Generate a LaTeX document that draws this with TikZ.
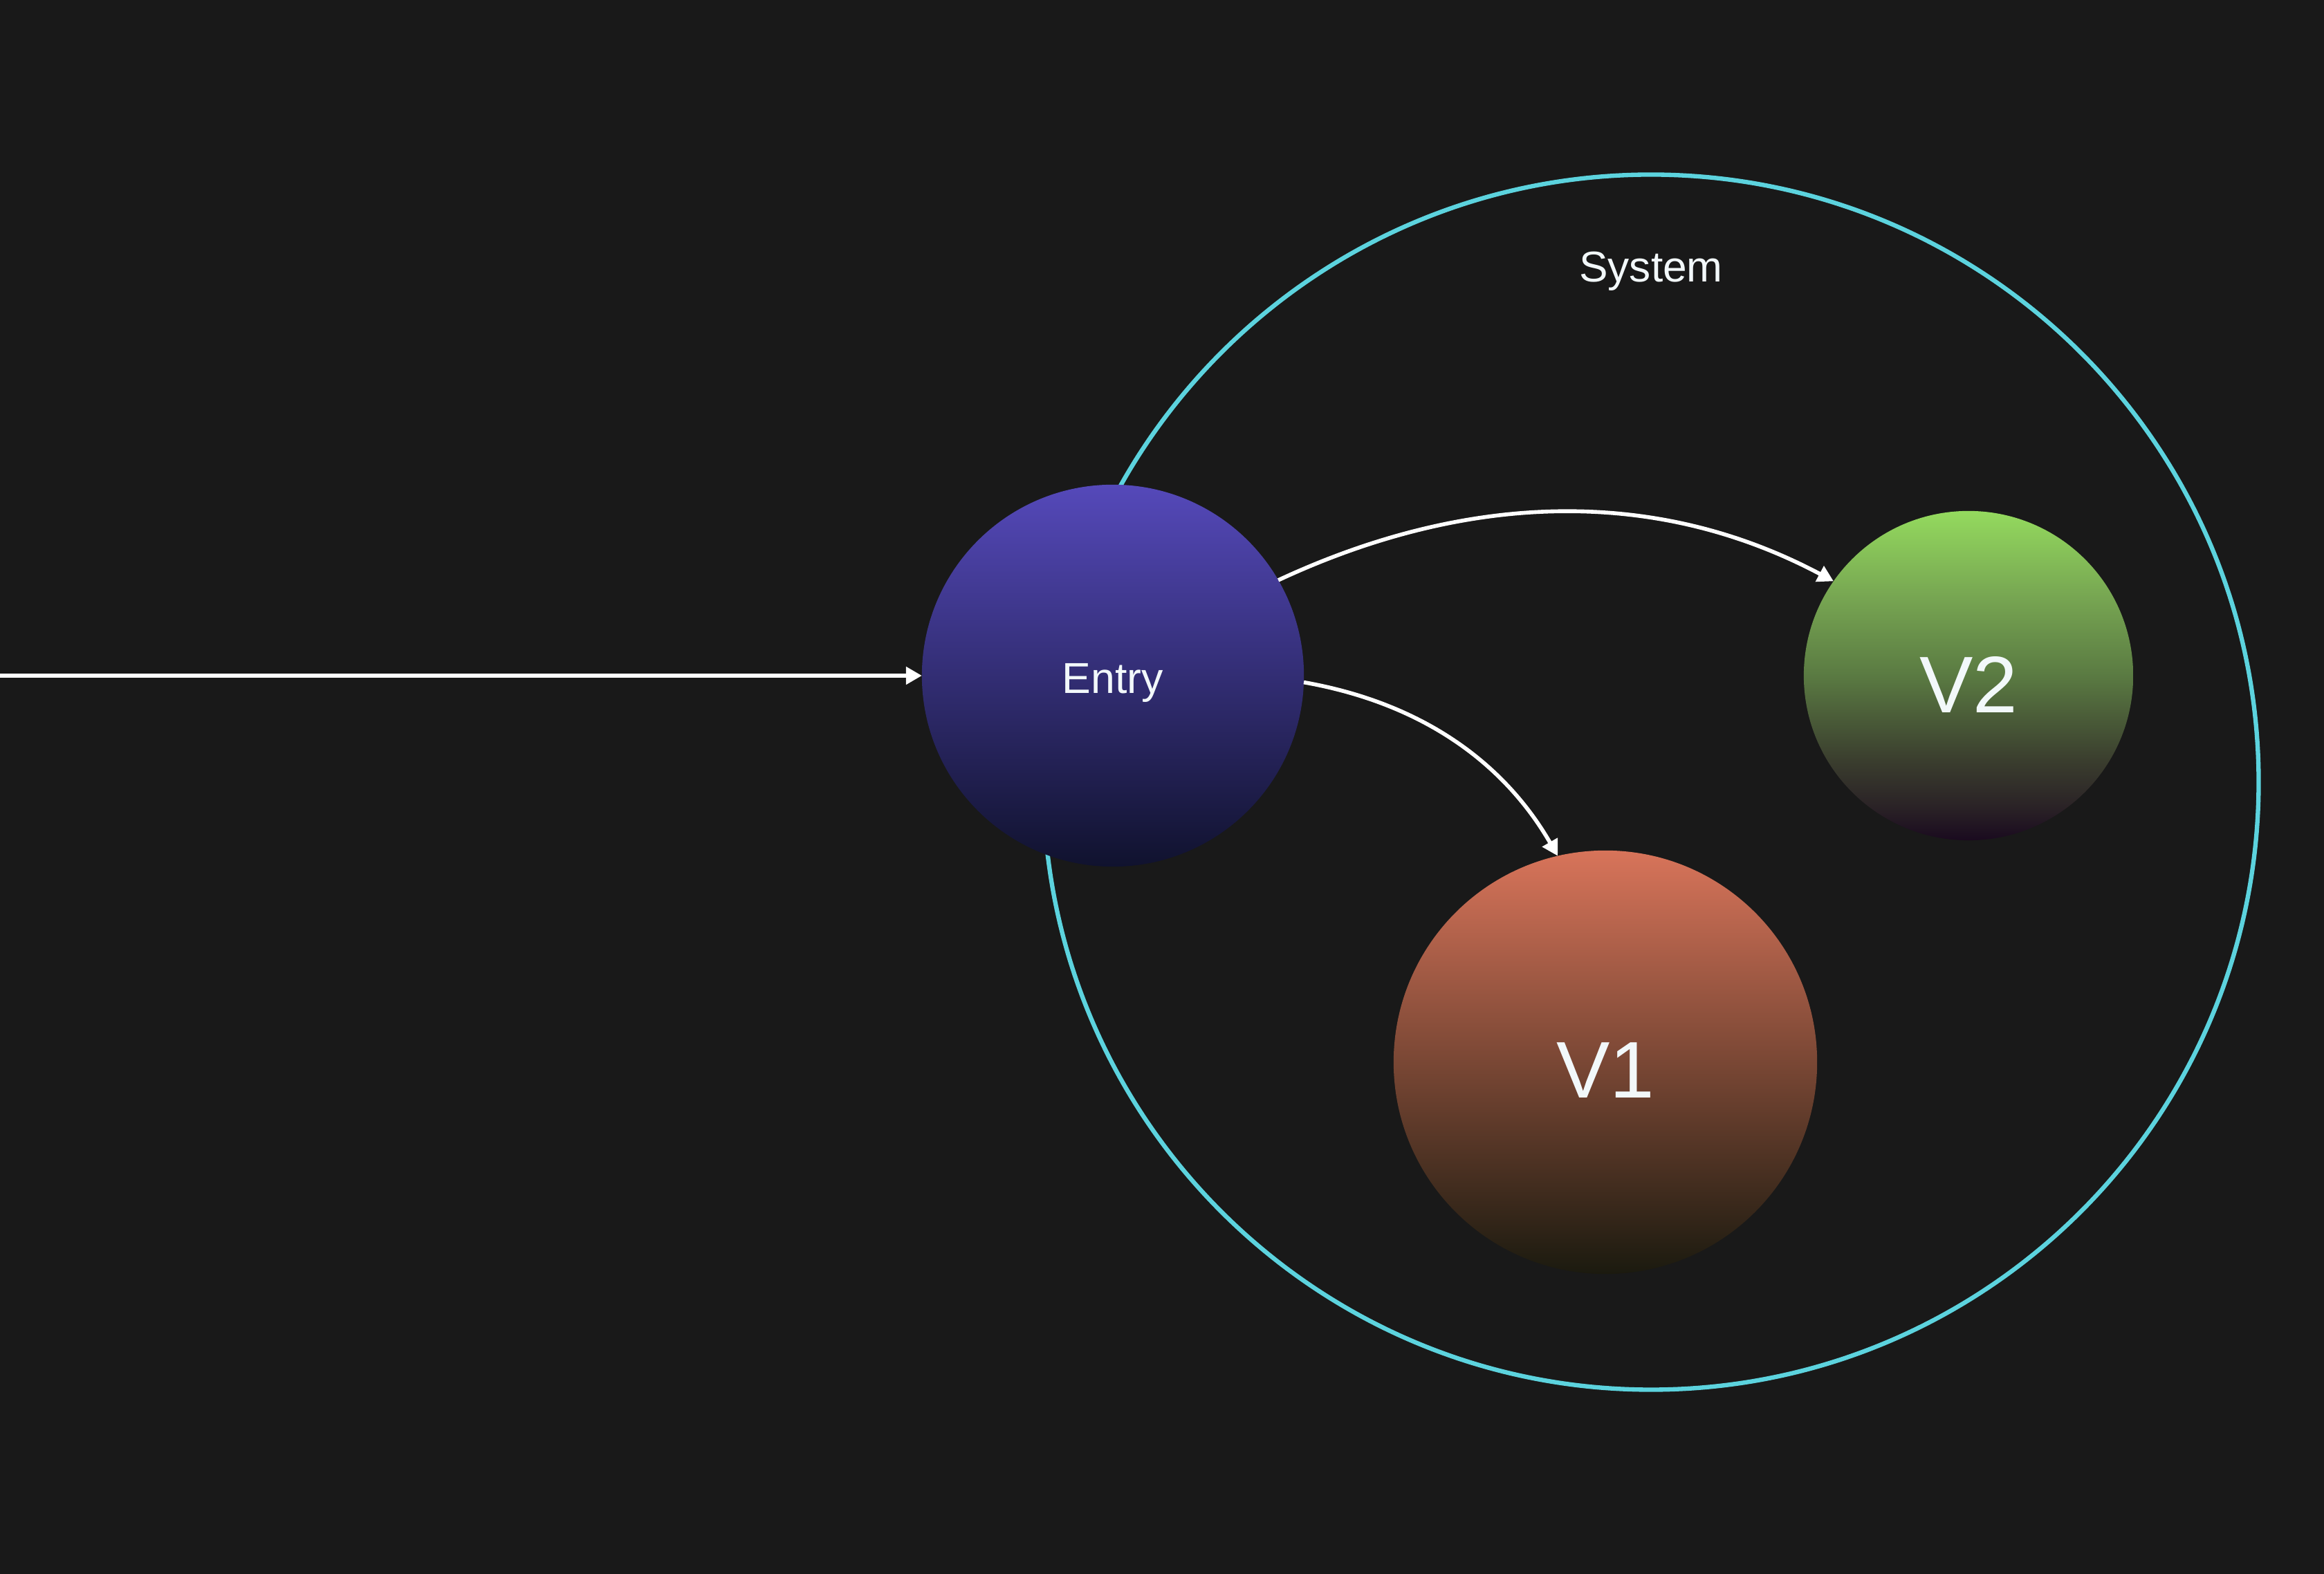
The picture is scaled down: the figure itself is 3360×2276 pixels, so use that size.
\documentclass[tikz,border=0pt]{standalone}
\usepackage{fontspec}
\setmainfont{Liberation Sans}
\usetikzlibrary{arrows.meta}
\definecolor{bg}{HTML}{191919}
\definecolor{syscol}{HTML}{5CD3DE}
\definecolor{txtcol}{HTML}{F2F8FA}
\definecolor{entrytop}{HTML}{5549BA}
\definecolor{entrybot}{HTML}{10122E}
\definecolor{vtwotop}{HTML}{94DA5E}
\definecolor{vtwoa}{HTML}{77A652}
\definecolor{vtwomid}{HTML}{5A7A42}
\definecolor{vtwob}{HTML}{3A3D2E}
\definecolor{vtwoc}{HTML}{2A2226}
\definecolor{vtwobot}{HTML}{1A0A1F}
\definecolor{vonetop}{HTML}{D8745A}
\definecolor{vonebot}{HTML}{1B1A0F}
\pgfdeclareverticalshading{entryshade}{100bp}{color(0bp)=(entrybot); color(25bp)=(entrybot); color(75bp)=(entrytop); color(100bp)=(entrytop)}
\pgfdeclareverticalshading{vtwoshade}{100bp}{color(0bp)=(vtwobot); color(25bp)=(vtwobot); color(30bp)=(vtwoc); color(37bp)=(vtwob); color(50bp)=(vtwomid); color(62bp)=(vtwoa); color(75bp)=(vtwotop); color(100bp)=(vtwotop)}
\pgfdeclareverticalshading{voneshade}{100bp}{color(0bp)=(vonebot); color(25bp)=(vonebot); color(75bp)=(vonetop); color(100bp)=(vonetop)}
\tikzset{
  ball/.style={circle, inner sep=0pt, outer sep=0pt, text=txtcol, shade},
  sysring/.style={circle, draw=syscol, line width=1.8pt, inner sep=0pt, outer sep=0pt},
  conn/.style={draw=white, line width=1.6pt, -{Triangle[length=6.5pt,width=7pt]}},
  lbl/.style={text=txtcol, inner sep=0pt},
}
\begin{document}
\begin{tikzpicture}[x=0.01cm,y=0.01cm]
\useasboundingbox (0,0) rectangle (3360,2276);
\fill[bg] (0,0) rectangle (3360,2276);
\node[sysring, minimum size=17.56cm] (sys) at (2387,1145) {};
\node[lbl, font=\fontsize{17.7}{20}\selectfont] (syslabel) at (2387,1884) {System};
\node[ball, shading=entryshade, minimum size=5.52cm, font=\fontsize{17.8}{20}\selectfont] (entry) at (1609,1299) {\smash{\raisebox{-7.3pt}{Entry}}};
\node[ball, shading=vtwoshade, minimum size=4.76cm, font=\fontsize{33}{38}\selectfont] (v2) at (2846,1299) {\smash{\raisebox{-15.2pt}{V2}}};
\node[ball, shading=voneshade, minimum size=6.12cm, font=\fontsize{33}{38}\selectfont] (v1) at (2321,740) {\smash{\raisebox{-14.6pt}{V1}}};
\coordinate (src) at (0,1299);
\draw[conn] (src) -- (entry.west);
\draw[conn] (entry.30) .. controls +(25:296) and +(152:296) .. (v2.145);
\draw[conn] (entry.-2) .. controls +(-10:180) and +(120:150) .. (v1.103);
\end{tikzpicture}
\end{document}
